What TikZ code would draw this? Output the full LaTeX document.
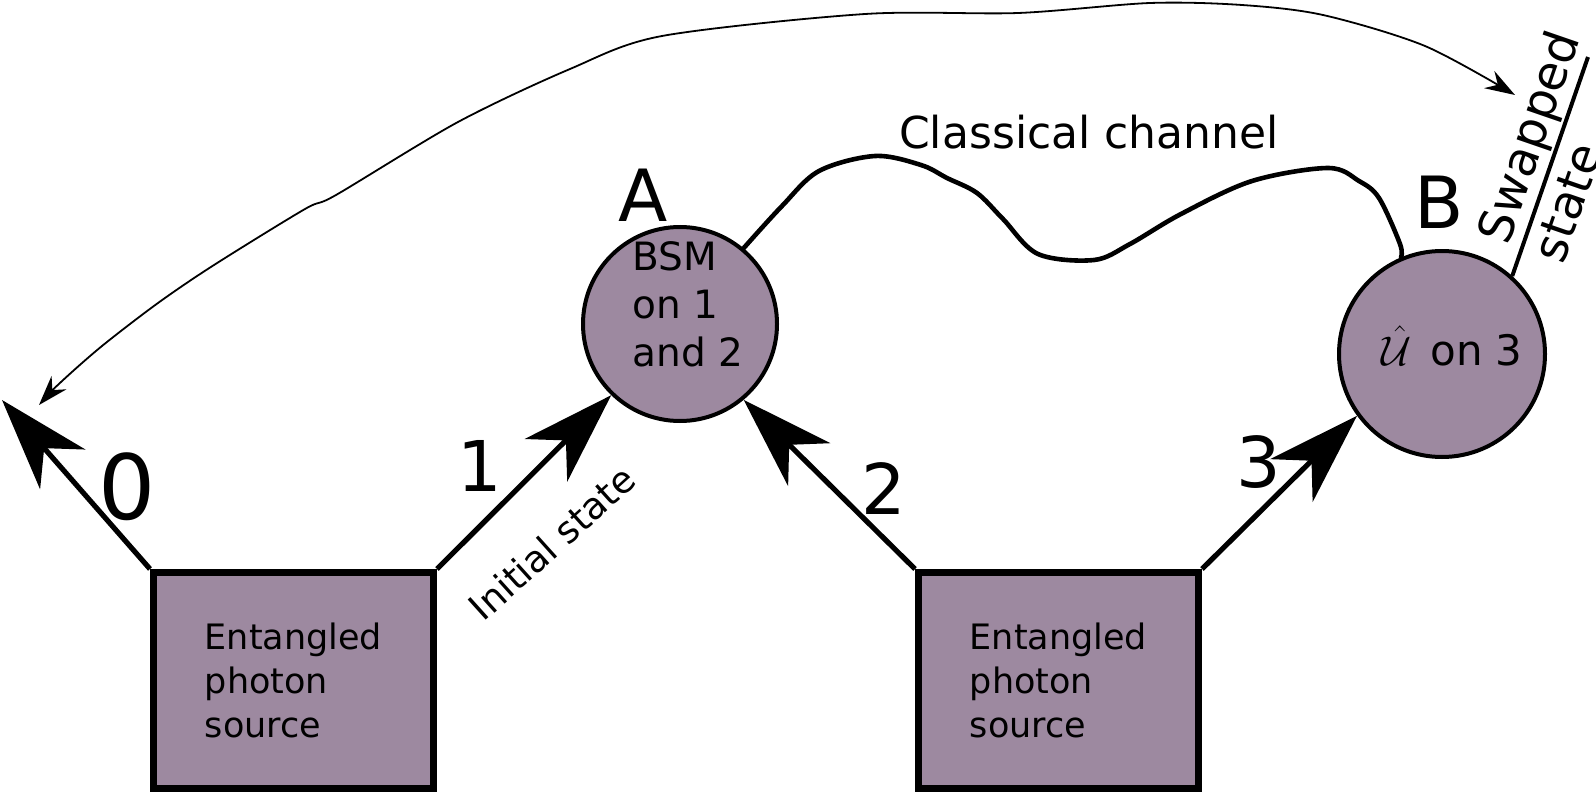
\documentclass[tikz,border=0pt]{standalone}
\usepackage{fontspec}
\setmainfont{DejaVu Sans}
\usepackage{amsmath,amssymb}
\usepackage{tikz}
\usetikzlibrary{positioning, arrows.meta}

\definecolor{nodepurple}{RGB}{157,137,160}

\begin{document}
\begin{tikzpicture}[
  x=0.5pt, y=-0.5pt,
  >={Stealth[length=15pt, width=10pt, inset=5pt]},
  every node/.style={align=left},
  source/.style={rectangle, draw, line width=3.5pt, fill=nodepurple,
                 minimum width=140pt, minimum height=108pt,
                 font=\fontsize{17.5}{22}\selectfont},
  station/.style={circle, draw, line width=2pt, fill=nodepurple},
  inside/.style={font=\fontsize{19.5}{24}\selectfont, inner sep=0pt},
  photon/.style={-{Stealth[length=46pt, width=30pt, inset=14pt]}, line width=2.6pt},
  channel/.style={line width=2.3pt, line join=round, line cap=round},
  feed/.style={<->, line width=0.9pt},
  sitename/.style={font=\fontsize{36}{43}\selectfont, inner sep=0pt},
  linkno/.style={font=\fontsize{35}{42}\selectfont, inner sep=0pt},
  tag/.style={font=\fontsize{18.5}{23}\selectfont, inner sep=0pt}
]
\useasboundingbox (0,0) rectangle (1596,797);

% --- sources and stations ---
\node[source] (src1) at (293.5,680.5) {Entangled\\photon\\source};
\node[source, right=239pt of src1] (src2) {Entangled\\photon\\source};
\node[station, minimum size=97pt] (bsm) at (680,324) {};
\node[station, minimum size=103pt] (unit) at (1442,354) {};
\node[inside] (bsmtext) at ([xshift=4pt, yshift=10pt]bsm.center) {BSM\\on 1\\and 2};
\node[inside, font=\fontsize{21}{25}\selectfont] (unittext) at ([xshift=5pt, yshift=4pt]unit.center) {$\hat{\mathcal{U}}$\hspace{0.45em}on 3};

% --- labels ---
\node[sitename] (alabel) at (643,195) {A};
\node[sitename] (blabel) at (1439,202) {B};
\node[linkno, font=\fontsize{45}{54}\selectfont] (no0) at (127,487) {0};
\node[linkno] (no1) at (480,466) {1};
\node[linkno] (no2) at (884,489) {2};
\node[linkno] (no3) at (1259,462) {3};
\node[tag, font=\fontsize{22}{26}\selectfont] (chanlabel) at (1089,132) {Classical channel};
\node[tag, rotate=42] (initlabel) at (552,543) {Initial state};
\node[tag, rotate=71, font=\fontsize{24}{29}\selectfont] (swaplabel) at (1555,146) {Swapped\\state};

% --- free ends ---
\coordinate (out0) at (2,400);
\coordinate (swapend) at (1588,57);
\coordinate (feedL) at (39,405);
\coordinate (feedR) at (1515,95);

% --- photons ---
\draw[photon] (src1.north west) -- (out0);
\draw[photon] (src1.north east) -- (bsm.226);
\draw[photon] (src2.north west) -- (bsm.310);
\draw[photon] (src2.north east) -- (unit.216);
\draw[line width=2pt] (unit.48) -- (swapend);

% --- classical channel ---
\draw[channel] plot[smooth, tension=0.55] coordinates {(bsm.50) (782,206) (819,171) (875,156) (921,165) (947,178) (977,193) (1003,219) (1038,254) (1094,260) (1130,244) (1181,214) (1252,181) (1328,168) (1359,181) (1379,198) (1400,244) (unit.113)};

% --- long feed-forward curve ---
\draw[feed] plot[smooth, tension=0.5] coordinates {(feedL) (61,382) (102,346) (158,303) (214,265) (305,209) (336,195) (458,122) (570,69) (662,36) (865,14) (1018,13) (1150,3) (1242,5) (1323,15) (1425,46) (feedR)};

\end{tikzpicture}
\end{document}
